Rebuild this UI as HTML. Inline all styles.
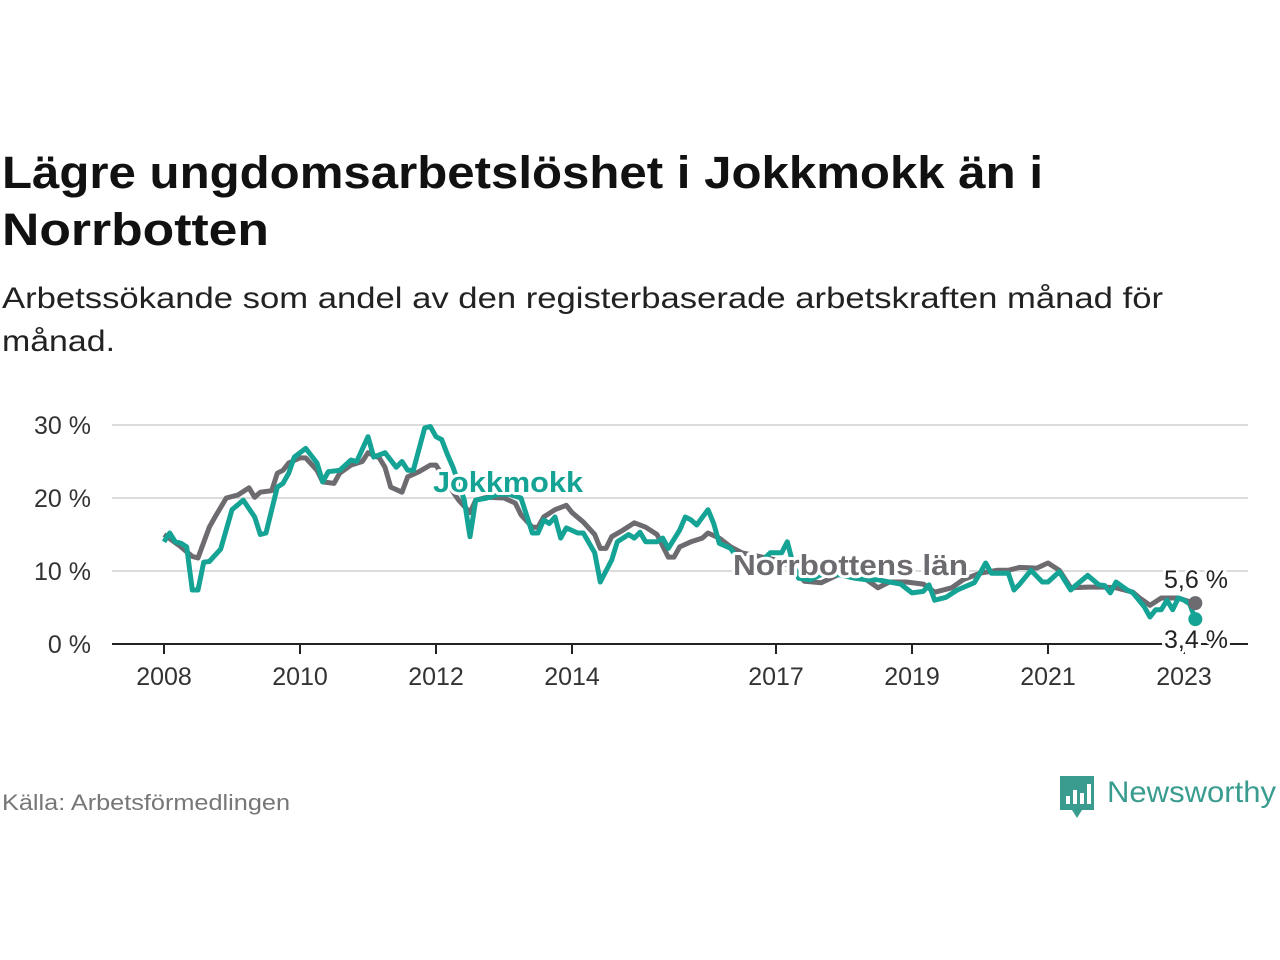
<!DOCTYPE html>
<html><head><meta charset="utf-8"><style>
body{margin:0;background:#fff;width:1280px;height:960px;overflow:hidden}
svg{display:block;font-family:"Liberation Sans",sans-serif}
</style></head><body>
<svg id="chart" width="1280" height="960" viewBox="0 0 1280 960">
<text x="2" y="188" font-size="45" font-weight="bold" fill="#111" textLength="1041" lengthAdjust="spacingAndGlyphs">Lägre ungdomsarbetslöshet i Jokkmokk än i</text>
<text x="2" y="245" font-size="45" font-weight="bold" fill="#111" textLength="267" lengthAdjust="spacingAndGlyphs">Norrbotten</text>
<text x="2" y="308" font-size="30" fill="#222" textLength="1161" lengthAdjust="spacingAndGlyphs">Arbetssökande som andel av den registerbaserade arbetskraften månad för</text>
<text x="2" y="351" font-size="30" fill="#222" textLength="113" lengthAdjust="spacingAndGlyphs">månad.</text>
<g id="grid"></g><g id="axis"></g><g id="lines"></g><g id="labels"></g>
<text x="2" y="810" font-size="22" fill="#777" textLength="288" lengthAdjust="spacingAndGlyphs">Källa: Arbetsförmedlingen</text>
<g>
<path d="M1060 776 h34 v34 h-12 l-5 8 l-5 -8 h-12 z" fill="#3a9c8f"/>
<rect x="1066" y="796" width="4" height="8" fill="#fff"/><rect x="1073" y="790" width="4" height="14" fill="#fff"/><rect x="1080" y="793" width="4" height="11" fill="#fff"/><rect x="1087" y="784" width="4" height="20" fill="#fff"/>
<text x="1107" y="802" font-size="30" fill="#3a9c8f" textLength="169" lengthAdjust="spacingAndGlyphs">Newsworthy</text>
</g>
</svg>
<script>
const yTicks=[0,10,20,30];
const xTickYears=[2008,2010,2012,2014,2017,2019,2021,2023];
const jokkMonths=[0,1,2,3,4,5,6,7,8,10,12,14,16,17,18,20,21,22,23,25,27,28,29,31,33,34,36,37,39,41,42,43,44,46,47,48,49,50,51,52,53,54,55,57,59,61,63,65,66,67,68,69,70,71,73,74,76,77,79,80,82,83,84,85,87,88,89,91,92,93,94,96,97,98,100,101,103,105,107,109,110,111,112,114,116,119,122,124,126,128,130,132,134,135,136,138,140,143,144,145,146,149,150,151,153,155,156,158,160,161,163,165,166,167,168,170,171,173,174,175,176,177,178,179,180,181,182];
const jokkValues=[14,15.2,14,13.8,13.3,7.4,7.4,11.2,11.3,13,18.4,19.7,17.4,15,15.2,21.5,22,23.4,25.6,26.8,24.8,22.2,23.6,23.8,25.2,25,28.4,25.6,26.2,24.2,25,23.8,23.8,29.6,29.8,28.4,28,26,24.2,22,19.7,14.7,19.7,20,20.5,20.5,20,15.2,15.2,17,16.5,17.4,14.5,15.9,15.2,15.2,12.5,8.5,11.5,14,15,14.5,15.3,14,14,14.5,13.1,15.6,17.4,17,16.3,18.4,16.5,13.8,13.1,12,11,11,12.5,12.5,14,11,9,8.8,9.5,9.5,9,8.8,8.8,8.5,8.2,7,7.2,8.1,6,6.4,7.4,8.4,9.7,11.1,9.7,9.7,7.4,8.2,10.1,8.5,8.5,9.9,7.4,8.1,9.4,8.1,8,7,8.5,7.4,7,5.1,3.7,4.7,4.7,6,4.7,6.3,6,5.5,3.4];
const norrMonths=[0,3,5,6,8,9,11,13,15,16,17,19,20,21,22,24,25,27,28,30,31,33,35,36,38,39,40,42,43,45,47,48,50,52,54,55,57,60,62,63,65,66,67,69,71,72,74,76,77,78,79,81,83,85,87,89,90,91,93,95,96,98,100,102,105,108,111,113,116,119,122,124,126,128,131,134,136,139,141,144,147,149,151,154,156,158,160,163,166,168,171,172,174,176,179,181,182];
const norrValues=[15,13.3,12,11.8,16,17.4,20,20.4,21.4,20.1,20.8,21,23.4,23.8,24.8,25.5,25.5,23.8,22.2,22,23.4,24.5,25,26.2,25.5,24.2,21.5,20.8,22.9,23.6,24.5,24.5,22,19.7,18,19.7,20.1,20,19.3,17.7,16,16,17.4,18.4,19,18,16.7,15,13.1,13.1,14.7,15.6,16.6,16,15,11.9,11.9,13.3,14,14.5,15.2,14.5,13.3,12.5,12,11.5,10.5,8.6,8.4,9.5,9.5,8.8,7.7,8.5,8.5,8.2,7.1,7.7,8.8,9.7,10.1,10.1,10.5,10.4,11.1,10.1,7.7,7.8,7.8,7.7,7.1,6.4,5.3,6.3,6.3,5.8,5.6];
const NS='http://www.w3.org/2000/svg';
const X0=164, PX_YEAR=68, Y0=644, PX_PCT=7.3;
function xYear(y){return X0+(y-2008)*PX_YEAR;}
function xMonth(m){return X0+m*PX_YEAR/12;}
function yVal(v){return Y0-v*PX_PCT;}
function mk(tag,attrs,parent){const e=document.createElementNS(NS,tag);for(const k in attrs)e.setAttribute(k,attrs[k]);parent.appendChild(e);return e;}
const grid=document.getElementById('grid'),axis=document.getElementById('axis'),lines=document.getElementById('lines'),labels=document.getElementById('labels');
yTicks.forEach(t=>{
  if(t>0){const g=mk('line',{x1:112,x2:1248,y1:yVal(t),y2:yVal(t),stroke:'#dcdcdc','stroke-width':2},grid);
  
  }
  const tx=mk('text',{x:91,y:yVal(t)+9,'text-anchor':'end','font-size':25,fill:'#333'},axis);
  tx.textContent=t+' %';
  
  
});
const base=mk('line',{x1:112,x2:1248,y1:Y0,y2:Y0,stroke:'#222','stroke-width':2},axis);


xTickYears.forEach(yr=>{
  mk('line',{x1:xYear(yr),x2:xYear(yr),y1:Y0,y2:Y0+10,stroke:'#222','stroke-width':2},axis);
  const tx=mk('text',{x:xYear(yr),y:685,'text-anchor':'middle','font-size':25,fill:'#333'},axis);
  tx.textContent=yr;
  
  
});
function path(ms,vs){return ms.map((m,i)=>(i?'L':'M')+xMonth(m).toFixed(1)+' '+yVal(vs[i]).toFixed(1)).join(' ');}
const pn=mk('path',{d:path(norrMonths,norrValues),fill:'none',stroke:'#6d6a70','stroke-width':5,'stroke-linejoin':'round'},lines);


const pj=mk('path',{d:path(jokkMonths,jokkValues),fill:'none',stroke:'#14a394','stroke-width':5,'stroke-linejoin':'round'},lines);


const ln=norrMonths.length-1, lj=jokkMonths.length-1;
const dn=mk('circle',{cx:xMonth(norrMonths[ln]),cy:yVal(norrValues[ln]),r:7,fill:'#6d6a70'},lines);


const dj=mk('circle',{cx:xMonth(jokkMonths[lj]),cy:yVal(jokkValues[lj]),r:7,fill:'#14a394'},lines);


function lab(txt,x,y,fill,size,bold,name,anchor,len){
  const a={x:x,y:y,'font-size':size,fill:fill,'text-anchor':anchor||'start','font-weight':bold?'bold':'normal',stroke:'#fff','stroke-width':6,'paint-order':'stroke','stroke-linejoin':'round'};
  if(len){a.textLength=len;a.lengthAdjust='spacingAndGlyphs';}
  const t=mk('text',a,labels);t.textContent=txt;
  
  
}
lab('Jokkmokk',433,492,'#14a394',29,true,'jokkmokk-label',null,150);
lab('Norrbottens län',733,575,'#6d6a70',29,true,'norrbotten-label',null,235);
lab(String(norrValues[ln]).replace('.',',')+' %',1196,588,'#222',25,false,'norrbotten-value-label','middle');
lab(String(jokkValues[lj]).replace('.',',')+' %',1196,648,'#222',25,false,'jokkmokk-value-label','middle');
</script>
</body></html>
